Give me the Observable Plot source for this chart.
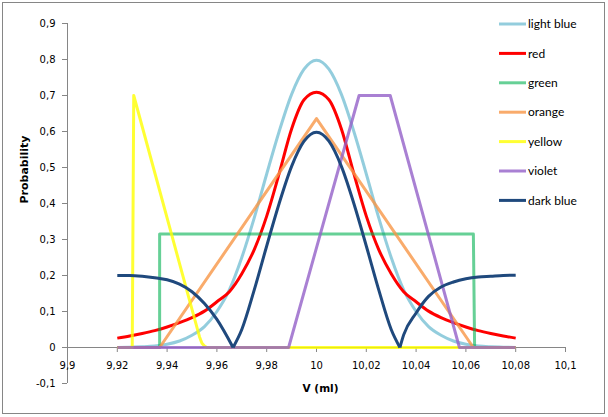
<!DOCTYPE html>
<html><head><meta charset="utf-8">
<script src="https://cdn.jsdelivr.net/npm/d3@7"></script>
<script src="https://cdn.jsdelivr.net/npm/@observablehq/plot@0.6"></script>
<style>html,body{margin:0;padding:0;background:#fff}#chart svg{display:block}</style>
</head><body><div id="chart"></div>
<script>
// ---- data ----
const seriesNames = ["light blue", "red", "green", "orange", "yellow", "violet", "dark blue"];
const seriesColors = ["#4BACC6", "#FF0000", "#00B050", "#F79646", "#FFFF00", "#9460C8", "#1F497D"];
const seriesOpacity = [0.6, 1, 0.6, 0.8, 0.8, 0.8, 1];

const volumeGrid = [9.92, 9.925, 9.93, 9.935, 9.94, 9.945, 9.95, 9.955, 9.96, 9.965, 9.97, 9.975, 9.98, 9.985, 9.99, 9.995,
  10, 10.005, 10.01, 10.015, 10.02, 10.025, 10.03, 10.035, 10.04, 10.045, 10.05, 10.055, 10.06, 10.065, 10.07, 10.075, 10.08];
const lightBlue = [0, 0.001, 0.002, 0.004, 0.009, 0.018, 0.034, 0.058, 0.100, 0.160, 0.250, 0.360, 0.482, 0.600, 0.703, 0.773,
  0.798, 0.773, 0.703, 0.600, 0.482, 0.360, 0.250, 0.160, 0.100, 0.058, 0.034, 0.018, 0.009, 0.004, 0.002, 0.001, 0];
const red = [0.026, 0.032, 0.039, 0.047, 0.057, 0.069, 0.083, 0.101, 0.127, 0.155, 0.205, 0.272, 0.365, 0.483, 0.607, 0.688,
  0.709, 0.688, 0.607, 0.483, 0.365, 0.272, 0.205, 0.155, 0.127, 0.101, 0.083, 0.069, 0.057, 0.047, 0.039, 0.032, 0.026];

const greenV = [9.92, 9.937, 9.937, 10.063, 10.0635, 10.08];
const greenP = [0, 0, 0.315, 0.315, 0, 0];
const orangeV = [9.92, 9.937, 10, 10.063, 10.08];
const orangeP = [0, 0, 0.636, 0, 0];
const yellowV = [9.92, 9.926, 9.9266, 9.95, 9.953, 9.954, 9.955, 9.956, 10.08];
const yellowP = [0, 0, 0.70, 0.106, 0.03, 0.012, 0.004, 0, 0];
const violetV = [9.92, 9.9888, 10.0171, 10.0296, 10.0574, 10.08];
const violetP = [0, 0, 0.70, 0.70, 0, 0];
const darkBlueV = [9.92, 9.925, 9.93, 9.935, 9.94, 9.945, 9.95, 9.955, 9.96, 9.9665,
  9.9665, 9.97, 9.975, 9.98, 9.985, 9.99, 9.995, 10, 10.005, 10.01, 10.015, 10.02, 10.025, 10.03, 10.0335,
  10.0335, 10.035, 10.04, 10.045, 10.05, 10.055, 10.06, 10.065, 10.07, 10.075, 10.08];
const darkBlueP = [0.200, 0.200, 0.198, 0.194, 0.188, 0.176, 0.155, 0.122, 0.078, 0,
  0, 0.050, 0.160, 0.282, 0.400, 0.503, 0.573, 0.598, 0.573, 0.503, 0.400, 0.282, 0.160, 0.050, 0,
  0, 0.035, 0.096, 0.142, 0.168, 0.182, 0.191, 0.196, 0.198, 0.200, 0.201];
const darkBlueSegment = [0,0,0,0,0,0,0,0,0,0, 1,1,1,1,1,1,1,1,1,1,1,1,1,1,1, 2,2,2,2,2,2,2,2,2,2,2];

const xTicks = [9.9, 9.92, 9.94, 9.96, 9.98, 10, 10.02, 10.04, 10.06, 10.08, 10.1];
const yTicks = [-0.1, 0, 0.1, 0.2, 0.3, 0.4, 0.5, 0.6, 0.7, 0.8, 0.9];

// ---- build ----
const comma = d => String(d).replace(".", ",");
const pairs = (V, P, S) => V.map((v, i) => ({v, p: P[i], s: S ? S[i] : 0}));
const seriesData = [
  pairs(volumeGrid, lightBlue), pairs(volumeGrid, red), pairs(greenV, greenP), pairs(orangeV, orangeP),
  pairs(yellowV, yellowP), pairs(violetV, violetP), pairs(darkBlueV, darkBlueP, darkBlueSegment)
];
const curves = ["monotone-x", "monotone-x", "linear", "linear", "linear", "linear", "monotone-x"];
const gray = "#868686";

const lineMarks = seriesData.map((data, k) => Plot.line(data, {
  x: "v", y: "p", z: "s", curve: curves[k], stroke: seriesColors[k], strokeOpacity: seriesOpacity[k],
  strokeWidth: 3, strokeLinejoin: "round", strokeLinecap: "butt"
}));

const chart = Plot.plot({
  width: 608, height: 417,
  marginLeft: 67, marginRight: 43, marginTop: 23, marginBottom: 34,
  style: {fontFamily: "DejaVu Sans", fontSize: "10px", background: "#fff", color: "#000"},
  x: {domain: [9.9, 10.1], axis: null},
  y: {domain: [-0.1, 0.9], axis: null},
  marks: [
    Plot.ruleX([9.9], {stroke: gray}),
    Plot.axisY({ticks: yTicks, tickFormat: comma, tickSize: 5, tickPadding: 7, stroke: gray, fill: "#000", label: null}),
    Plot.ruleY([0], {stroke: gray}),
    Plot.ruleX(xTicks, {x: d => d, y1: 0, y2: 0, insetBottom: -5, stroke: gray}),
    Plot.text(xTicks, {x: d => d, y: 0, dy: 18, text: comma, fill: "#000"}),
    ...lineMarks,
    Plot.text(["Probability"], {frameAnchor: "left", dx: -43, rotate: -90, fontWeight: "bold", fontSize: 11, fill: "#000"}),
    Plot.text(["V (ml)"], {frameAnchor: "bottom", dx: 4, dy: 8, fontWeight: "bold", fontSize: 10.5, fill: "#000"})
  ]
});

const svg = d3.select(chart);
svg.append("rect").attr("x", 2.5).attr("y", 2.5).attr("width", 602).attr("height", 411)
  .attr("fill", "none").attr("stroke", gray);
const legend = svg.append("g").attr("text-anchor", "start");
seriesNames.forEach((name, k) => {
  const y = 24 + k * 29.4;
  legend.append("line").attr("x1", 499).attr("x2", 526).attr("y1", y).attr("y2", y)
    .attr("stroke", seriesColors[k]).attr("stroke-opacity", seriesOpacity[k]).attr("stroke-width", 3);
  legend.append("text").attr("x", 528).attr("y", y).attr("dy", "0.35em").attr("text-anchor", "start")
    .attr("font-family", "Lato").attr("font-size", 12).attr("fill", "#000").text(name);
});
document.getElementById("chart").append(chart);
</script>
</body></html>
